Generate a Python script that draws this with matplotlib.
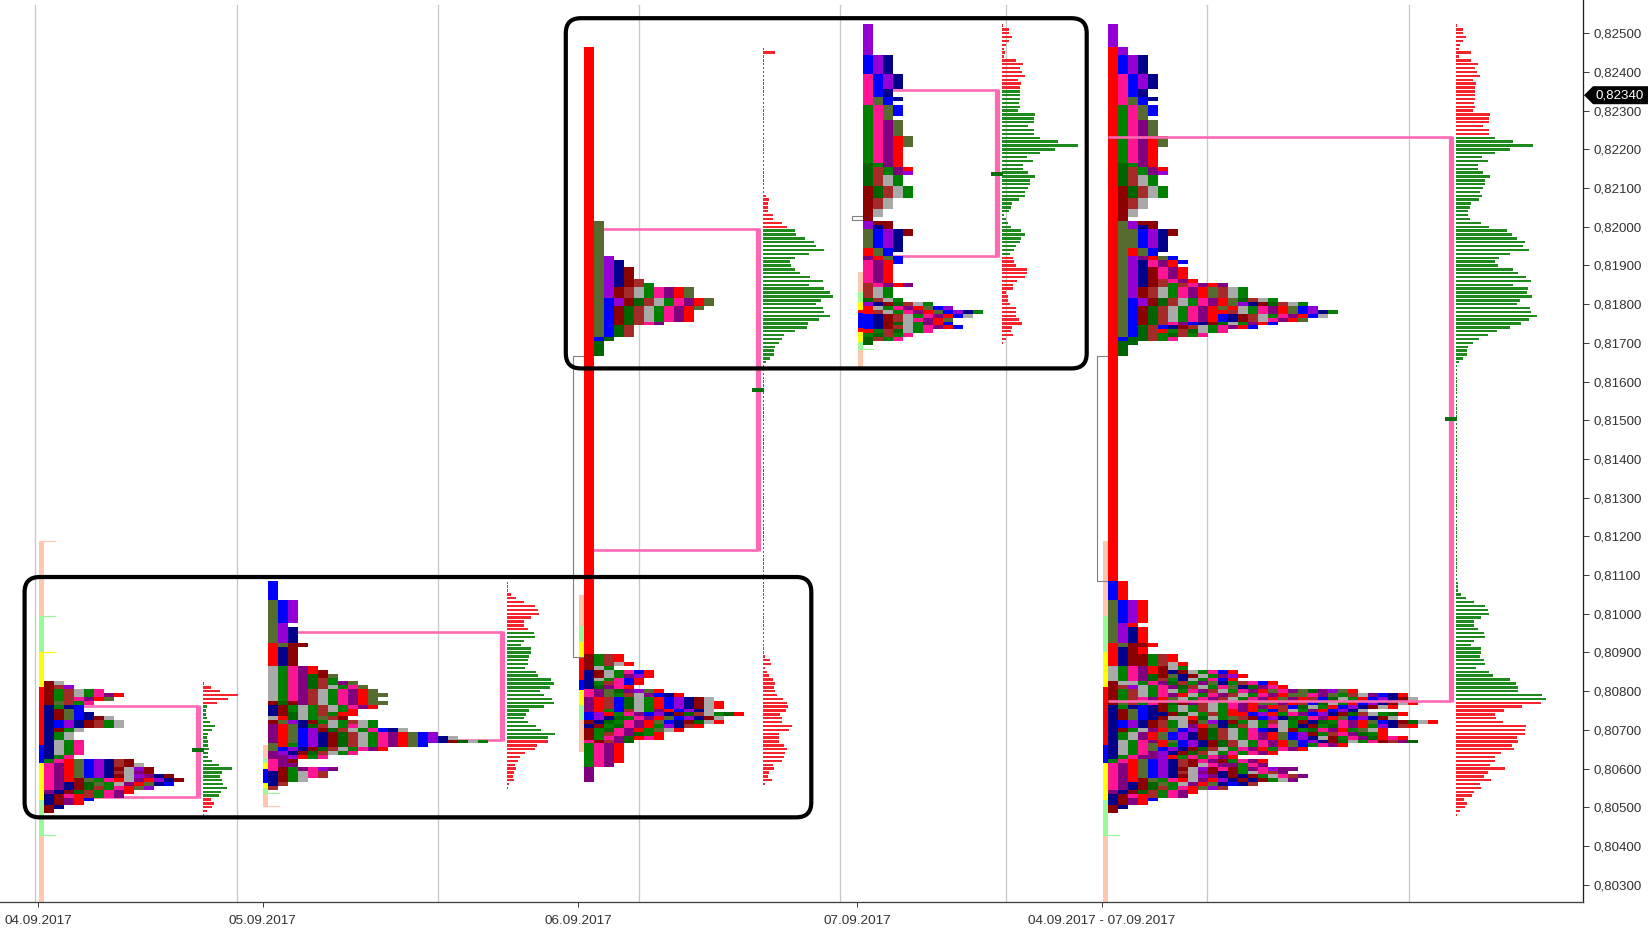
import matplotlib
matplotlib.use("Agg")
import matplotlib.pyplot as plt
from matplotlib.patches import FancyBboxPatch, Polygon

plt.rcParams['font.family'] = ['Liberation Sans', 'DejaVu Sans']

# tpo letters per price row, top row first (row size 0.0001)
DAY1_TOP = 8082
DAY1_ROWS = ["DA", "DWV", "DGWAGP", "DGWAGPMR", "DGWPMRO", "DOWGP", "NGNB", "NDOB", "NDOBN",
             "NDOBNDA", "NBVNDWGA", "NBVNDWGA", "NDGA", "NGA", "NGA", "NAGP", "NAGP", "NAGP", "NAGP",
             "NGP", "GPROBVNWD", "PMROBVNWDA", "PMROBVNDAVD", "PMROBVNWAMD", "PMROBVNDAVMND",
             "PMRDOGPRAMRVND", "PMNDKOGAMRONB", "PMNDKWGPROV", "MNDKWGPMR", "NDPRWGPM", "NDMRB",
             "NDMR", "DN", "D"]
DAY2_TOP = 8108
DAY2_ROWS = ["B"] * 5 + ["OBV"] * 6 + ["OV"] + ["OVN"] * 4 + ["RODD"] + ["RND"] * 5 + [
    "AGPMR", "AGPMRD", "AGPMKDO", "AGPMKWG", "AGPMKWGMO", "AGPMKWAGPO", "AGPMWAGPMRO", "AGPMWAGPMROO",
    "AGPMWAGPMRO", "DKDMWAGPMROO", "NDGAGWAGPMR", "NDGAGWAGR", "NDKAGWGRR", "ARKAGOWD", "DOVNDGAGWAG",
    "MRONKWAGPAG", "MROBVDKWAGPBNA", "MROBVNDKWAGPMROBV", "MROBVNDKWAGPMROBVNA",
    "MROBVNDKWAGPMROBVNDKAG", "ORGBVNDKWAGPMROB", "OBVNDKWAGPMR", "MVNDKWAGP", "MMVRGP", "PMD", "PMM",
    "PDGMPVM", "NDGAPW", "NDGAPW", "NDGA", "NW", "W"]
DAY3_TOP = 8246
DAY3_ROWS = ["R"] * 45 + ["RO"] * 9 + ["ROV", "ROVN", "ROVN"] + ["ROVND"] * 3 + ["ROVNDW", "ROVNDWG"] + \
    ["ROVDWAGPMRO"] * 3 + ["ROBVDKWAGPMRO"] * 2 + ["ROBDKWAGPMRO"] + ["ROBDKWAGPMR"] * 3 + ["ROBDKWPM"] + \
    ["ROBKW"] * 3 + ["RBK"] + ["RK"] * 4 + ["R"] * 77 + [
    "DGWR", "DGWR", "DGWAR", "DAG", "NDAGPBR", "NDAGMVR", "NAGPBR", "NGWPBR", "NKMPR", "PMOKMVOR",
    "PMOGWAMBNR", "MRWBKAGRBVNDA", "MRWBKAGRBVNDAR", "MRWBKAGRBVNDAR", "MRGBWAGMRBVNA", "BVRGPMBVNDKWAGKR",
    "BVNKGPMROBVNDA", "DNKGPMROBNDKAR", "NDGKPMRGVNWR", "DGKPMRGOAR", "DGWPMKGR", "DGPMKRPR", "PDWMK"] + \
    ["GPMR"] * 5 + ["GPM"] + ["M"] * 4
DAY4_TOP = 8252
DAY4_ROWS = ["V"] * 8 + ["BVN"] * 5 + ["PBVN"] * 4 + ["PBN", "PBN", "POBN", "POB"] + ["GPOB"] * 3 + ["GPO"] + \
    ["GPMO"] * 4 + ["GPMRO"] * 3 + ["GPMR"] * 4 + ["KGMR", "KWGMR", "KWGMV"] + ["KWAG"] * 3 + ["DKWAG"] * 3 + \
    ["DWA"] * 3 + ["DA", "DA", "D", "VDD", "VND", "OBVND", "OBVND"] + ["OBVN"] * 3 + ["ROBN", "ROB", "MROB", "PMRB"] + \
    ["PMR"] * 5 + ["WPMRM"] + ["WAG"] * 3 + ["KWAG", "VNDKWAG", "RAGPMROBV", "RWAGPMROBVNG", "BNDWAGPMRBA",
    "BNDWAPMRO", "BNDKAGMRB", "BNDWAGPMRB", "RGWKAGP", "GKWGP", "KWGP", "K"]

# volume per price row, same top rows as the tpo lists
DAY1_VOL = [1, 8, 17, 35, 25, 14, 4, 3, 3, 4, 7, 12, 9, 5, 4, 5, 5, 6, 5, 5, 9, 16, 29, 19, 17, 19, 20, 24, 18,
            16, 8, 11, 9, 4, 1]
DAY2_VOL = [1, 1, 1, 4, 9, 17, 28, 31, 32, 24, 17, 17, 21, 27, 28, 17, 14, 24, 24, 22, 21, 21, 18, 29, 31, 44,
            47, 43, 33, 37, 45, 47, 37, 22, 19, 17, 21, 29, 34, 48, 41, 41, 30, 28, 18, 13, 11, 8, 9, 7, 6, 7, 2, 1]
DAY3_VOL = [1, 12] + [1] * 36 + [3, 6, 5, 5, 5, 10, 10, 19, 24, 32, 33, 42, 51, 53, 61, 46, 32, 27, 28, 32, 37,
            47, 60, 46, 61, 67, 70, 58, 53, 60, 61, 67, 56, 45, 44, 32, 21, 19, 16, 12, 11, 11, 7, 3, 1] + \
    [1] * 74 + [2, 7, 8, 2, 4, 6, 10, 12, 11, 12, 14, 20, 24, 25, 23, 17, 19, 19, 29, 26, 16, 16, 16, 21, 24, 22,
                21, 19, 10, 11, 6, 5, 9, 2]
DAY4_VOL = [1, 7, 7, 10, 7, 4, 2, 3, 2, 14, 21, 18, 20, 23, 16, 19, 18, 18, 18, 18, 17, 18, 16, 33, 32, 32, 26,
            32, 32, 38, 56, 76, 53, 38, 25, 31, 21, 21, 26, 33, 28, 28, 26, 23, 23, 17, 10, 9, 7, 2, 4, 6, 9, 19,
            23, 19, 18, 14, 12, 8, 11, 12, 14, 25, 25, 23, 15, 11, 11, 4, 6, 6, 8, 14, 14, 14, 17, 20, 10, 9, 11,
            4, 1]

# value area and point of control style marker prices
VA_HIGH = [0.80762, 0.80952, 0.81994, 0.82353, 0.82232]
VA_LOW = [0.80526, 0.80674, 0.81165, 0.81925, 0.80774]
MID_PRICE = [0.80647, None, 0.81577, 0.82136, 0.81504]

# opening range segments, boundaries top to bottom
RANGE1 = [0.81189, 0.80995, 0.80902, 0.80812, 0.80661, 0.80614, 0.80519, 0.80428, 0.80256]
RANGE1_TYPES = ["peach", "lime", "yellow", "red", "blue", "yellow", "lime", "peach"]
RANGE2 = [0.80661, 0.80627, 0.80614, 0.80599, 0.80562, 0.80549, 0.80534, 0.80503]
RANGE2_TYPES = ["peach", "lime", "yellow", "blue", "yellow", "lime", "peach"]
RANGE3 = [0.81049, 0.80968, 0.80926, 0.80889, 0.80829, 0.80803, 0.80764, 0.80726, 0.80644]
RANGE3_TYPES = ["peach", "lime", "yellow", "red", "blue", "yellow", "lime", "peach"]
RANGE4 = [0.81884, 0.81832, 0.81806, 0.81785, 0.81776, 0.81738, 0.81729, 0.81703, 0.81682, 0.8163]
RANGE4_TYPES = ["peach", "lime", "yellow", "red", "blue", "red", "yellow", "lime", "peach"]

Y_TICKS = [0.803 + i * 0.001 for i in range(23)]
X_LABELS = ["04.09.2017", "05.09.2017", "06.09.2017", "07.09.2017", "04.09.2017 - 07.09.2017"]
LAST_PRICE = 0.8234

# layout, in pixels of the 1651x933 picture
W, H = 1651, 933
AXIS_RIGHT = 1583.4
AXIS_BOTTOM = 901.7
PX_PER_PRICE = 38700
PRICE_AT_TOP = 0.82586
PRICE_AT_BOTTOM = 0.80256
ROW = 0.0001
BLOCK = 10
RANGE_W = 5

COL_X = [43.9, 268, 584, 862.9, 1107.5]
BRACKET_X = [197.7, 501.6, 757.5, 996.8, 1451.4]
VOL_X = [202.8, 506.6, 762.6, 1001.8, 1456.4]
GRID_X = [35, 236.5, 437.5, 638.5, 840.3, 1006.1, 1207.4, 1408.5]
TICK_X = [37.9, 262.5, 578.4, 857, 1102]

COLORS = {"B": "#0000FF", "V": "#9400D3", "N": "#00008B", "D": "#8B0000", "K": "#006400", "W": "#A52A2A",
          "A": "#A9A9A9", "G": "#008000", "P": "#FF1493", "M": "#800080", "R": "#FF0000", "O": "#556B2F"}
RANGE_COLORS = {"peach": "#FFC8AE", "lime": "#98FB98", "yellow": "#FFFF00", "red": "#FF0000", "blue": "#0000FF"}
PINK = "#FF69B4"


def px(n):
    return n * 72 / 100


fig = plt.figure(figsize=(W / 100, H / 100), dpi=100)
ax = fig.add_axes([0, 1 - AXIS_BOTTOM / H, AXIS_RIGHT / W, AXIS_BOTTOM / H])
ax.set_xlim(0, AXIS_RIGHT)
ax.set_ylim(PRICE_AT_BOTTOM, PRICE_AT_TOP)

for x in GRID_X:
    ax.plot([x, x], [PRICE_AT_BOTTOM, 0.82572], color="#C8C8C8", lw=px(1.3), zorder=1)


def draw_range(x, bounds, kinds):
    for i, kind in enumerate(kinds):
        ax.bar(x - RANGE_W, bounds[i] - bounds[i + 1], width=RANGE_W, bottom=bounds[i + 1], align="edge",
               color=RANGE_COLORS[kind], linewidth=0, zorder=2)


def draw_tpo(x, top, rows):
    ys, lefts, cols = [], [], []
    for r, letters in enumerate(rows):
        for c, letter in enumerate(letters):
            ys.append((top - r) * ROW / 1)
            lefts.append(x + c * BLOCK)
            cols.append(COLORS[letter])
    ax.barh(ys, [BLOCK] * len(ys), left=lefts, height=ROW, color=cols, linewidth=0, antialiased=False, zorder=3)


def draw_vol(x, top, vols, low, high):
    ys = [(top - r) * ROW for r in range(len(vols))]
    cols = ["#1E8A1E" if low <= y <= high else "#F5242C" for y in ys]
    ax.barh(ys, vols, left=x, height=ROW * 0.62, color=cols, linewidth=0, zorder=3)


def draw_bracket(i, zorder):
    ax.plot([COL_X[i], BRACKET_X[i]], [VA_HIGH[i], VA_HIGH[i]], color=PINK, lw=px(2.6), solid_capstyle="butt", zorder=zorder)
    ax.plot([COL_X[i], BRACKET_X[i]], [VA_LOW[i], VA_LOW[i]], color=PINK, lw=px(2.6), solid_capstyle="butt", zorder=zorder)
    ax.plot([BRACKET_X[i], BRACKET_X[i]], [VA_LOW[i] - 0.00003, VA_HIGH[i] + 0.00003], color=PINK, lw=px(5.2),
            solid_capstyle="butt", zorder=zorder)
    if MID_PRICE[i] is not None:
        ax.plot([BRACKET_X[i] - 6, BRACKET_X[i] + 6], [MID_PRICE[i], MID_PRICE[i]], color="#0A6E0A", lw=px(4),
                solid_capstyle="butt", zorder=5)


days = [(DAY1_TOP, DAY1_ROWS, DAY1_VOL), (DAY2_TOP, DAY2_ROWS, DAY2_VOL),
        (DAY3_TOP, DAY3_ROWS, DAY3_VOL), (DAY4_TOP, DAY4_ROWS, DAY4_VOL)]

# the last profile is just all four days merged row by row
merged_rows = {}
merged_vol = {}
for top, rows, vols in days:
    for r, letters in enumerate(rows):
        merged_rows[top - r] = merged_rows.get(top - r, "") + letters
    for r, v in enumerate(vols):
        merged_vol[top - r] = merged_vol.get(top - r, 0) + v
ALL_TOP = max(merged_rows)
ALL_ROWS = [merged_rows.get(k, "") for k in range(ALL_TOP, min(merged_rows) - 1, -1)]
ALL_VOL = [merged_vol.get(k, 0) for k in range(ALL_TOP, min(merged_vol) - 1, -1)]

draw_range(COL_X[0], RANGE1, RANGE1_TYPES)
draw_range(COL_X[1], RANGE2, RANGE2_TYPES)
draw_range(COL_X[2], RANGE3, RANGE3_TYPES)
draw_range(COL_X[3], RANGE4, RANGE4_TYPES)
draw_range(COL_X[4], RANGE1, RANGE1_TYPES)

# little ticks that stick out of the range bars
for i, price, kind, length in [(0, RANGE1[0], "peach", 16), (0, RANGE1[1], "lime", 16), (0, RANGE1[2], "yellow", 16),
                               (0, RANGE1[7], "lime", 16), (1, 0.80538, "lime", 16), (1, RANGE2[-1], "peach", 16),
                               (3, 0.81684, "lime", 15), (4, RANGE1[7], "lime", 16)]:
    ax.plot([COL_X[i] - RANGE_W, COL_X[i] - RANGE_W + length], [price, price], color=RANGE_COLORS[kind], lw=px(1.2), zorder=2)

for i in range(4):
    draw_bracket(i, 2)
    draw_tpo(COL_X[i], days[i][0], days[i][1])
    draw_vol(VOL_X[i], days[i][0], days[i][2], VA_LOW[i], VA_HIGH[i])
draw_tpo(COL_X[4], ALL_TOP, ALL_ROWS)
draw_vol(VOL_X[4], ALL_TOP, ALL_VOL, VA_LOW[4], VA_HIGH[4])
draw_bracket(4, 4)

# gray single print steps
for x, high, low in [(COL_X[2], 0.81667, 0.80888), (COL_X[4], 0.81667, 0.81085)]:
    ax.plot([x, x - 11, x - 11, x], [high, high, low, low], color="#808080", lw=px(1.1), zorder=2.5)
ax.plot([COL_X[3], COL_X[3] - 11, COL_X[3] - 11, COL_X[3]], [0.82028, 0.82028, 0.82018, 0.82018], color="#808080",
        lw=px(1.1), zorder=2.5)

# black boxes drawn over the chart
for left, right, top, bottom in [(24.6, 811.3, 0.81095, 0.80474), (565.8, 1086.7, 0.82539, 0.81634)]:
    box = FancyBboxPatch((left, bottom), right - left, top - bottom, boxstyle="round,pad=0,rounding_size=15",
                         mutation_aspect=1 / PX_PER_PRICE, facecolor="none", edgecolor="black", lw=px(4.2), zorder=6)
    ax.add_patch(box)

for side in ["top", "left"]:
    ax.spines[side].set_visible(False)
ax.spines["bottom"].set_color("#404040")
ax.spines["bottom"].set_linewidth(px(1.3))
ax.spines["right"].set_color("#202020")
ax.spines["right"].set_linewidth(px(1.3))

ax.yaxis.tick_right()
ax.set_yticks(Y_TICKS)
ax.set_yticklabels([f"{v:.5f}".replace(".", ",") for v in Y_TICKS], fontsize=9.6, color="#333333")
ax.tick_params(axis="y", length=px(5.7), width=px(1), pad=px(4), color="#404040")
ax.set_xticks(TICK_X)
ax.set_xticklabels(X_LABELS, fontsize=9.7, color="#333333")
ax.tick_params(axis="x", length=px(5), width=px(1), pad=px(8), color="#404040")

# last price flag
half = 9 / PX_PER_PRICE
ax.add_patch(Polygon([(1584, LAST_PRICE), (1593, LAST_PRICE + half), (1648, LAST_PRICE + half), (1648, LAST_PRICE - half),
                      (1593, LAST_PRICE - half)], closed=True, facecolor="black", edgecolor="none", clip_on=False, zorder=7))
ax.text(1620, LAST_PRICE, f"{LAST_PRICE:.5f}".replace(".", ","), color="white", fontsize=9.6, ha="center",
        va="center", clip_on=False, zorder=8)

fig.savefig("out.png", dpi=100, facecolor="white")
